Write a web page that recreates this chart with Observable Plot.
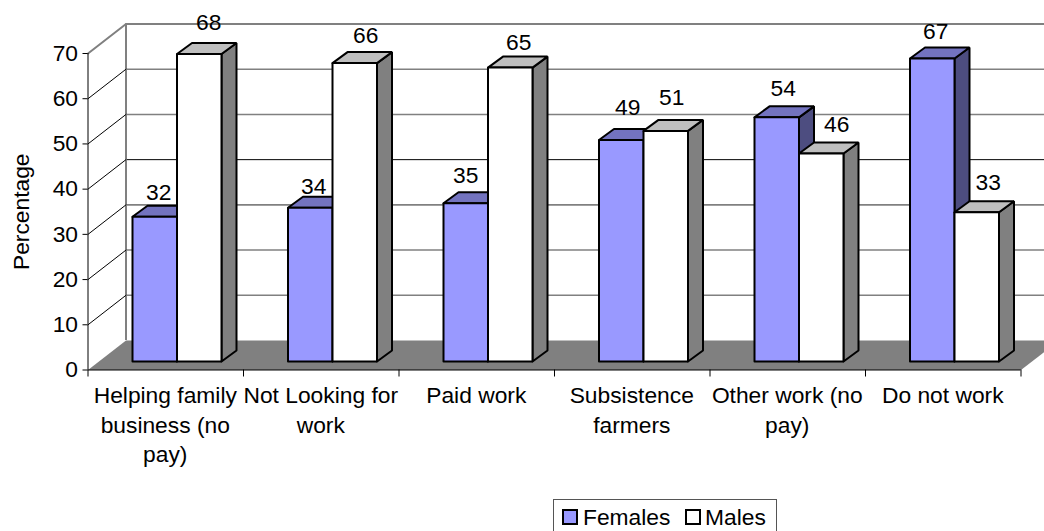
<!DOCTYPE html>
<html>
<head>
<meta charset="utf-8">
<script src="https://cdn.jsdelivr.net/npm/d3@7"></script>
<script src="https://cdn.jsdelivr.net/npm/@observablehq/plot@0.6"></script>
<style>
html,body{margin:0;padding:0;background:#fff;overflow:hidden;width:1044px;height:531px}
svg{display:block}
#legend{position:absolute;left:553px;top:499px;height:32px;width:224px;box-sizing:border-box;border:1px solid #555;border-bottom:none;
  font:22.8px "Liberation Sans",Arial,sans-serif;color:#000;white-space:nowrap;line-height:34px}
#legend i{position:absolute;top:9px;width:16px;height:16px;box-sizing:border-box;border:2px solid #000}
#legend span{position:absolute;top:0}
</style>
</head>
<body>
<div id="chart"></div>
<div id="legend">
<i style="left:8px;background:#9999ff"></i><span style="left:29px">Females</span>
<i style="left:131px;background:#fff"></i><span style="left:151px">Males</span>
</div>
<script>
const categories = ["Helping family\nbusiness (no\npay)", "Not Looking for\nwork", "Paid work", "Subsistence\nfarmers", "Other work (no\npay)", "Do not work"];
const females = [32, 34, 35, 49, 54, 67];
const males = [68, 66, 65, 51, 46, 33];
const yTicks = [0, 10, 20, 30, 40, 50, 60, 70];

const font = "Liberation Sans";
const fs = 22.8;
const pxX = 6 / 933, pxY = 70 / 316.5;          // one pixel in data units
const wallDX = 38 * pxX, wallDY = 29.5 * pxY;   // depth of the plot box
const barDX = 15 * pxX, barDY = 11 * pxY;       // depth of a bar
const base = 8.5 * pxY;                         // bars stand slightly in from the front edge
const gap = 44.5 * pxX, bw = 44.5 * pxX;

const faces = [];
function poly(id, fill, pts) { pts.concat([pts[0]]).forEach(([x, y]) => faces.push({id, fill, x, y})); }
const series = [
  {name: "f", values: females, off: 0, front: "#9999ff", top: "#7373bf", side: "#4d4d80"},
  {name: "m", values: males, off: 1, front: "#ffffff", top: "#bfbfbf", side: "#808080"}
];
categories.forEach((_, i) => {
  series.forEach(s => {
    const x0 = i + gap + s.off * bw, x1 = x0 + bw, y0 = base, y1 = base + s.values[i];
    poly(`${s.name}${i}side`, s.side, [[x1, y0], [x1 + barDX, y0 + barDY], [x1 + barDX, y1 + barDY], [x1, y1]]);
    poly(`${s.name}${i}top`, s.top, [[x0, y1], [x1, y1], [x1 + barDX, y1 + barDY], [x0 + barDX, y1 + barDY]]);
    poly(`${s.name}${i}front`, s.front, [[x0, y0], [x1, y0], [x1, y1], [x0, y1]]);
  });
});

// label placement as the source set it, in pixels from the centre above each bar
const labelNudge = [[-3.5, 3], [2, -4], [-4, 6], [3.5, 0], [-7.5, -1], [1, 2], [-1, -5], [-1.5, -6.5], [-1, -2], [8, -2], [-4, 0], [4, -3]];
const labels = [];
categories.forEach((_, i) => series.forEach((s, k) => {
  const [nx, ny] = labelNudge[i * 2 + k];
  labels.push({
    x: i + gap + s.off * bw + bw / 2 + barDX / 2 + nx * pxX,
    y: base + s.values[i] + barDY + (16 - ny) * pxY,
    t: String(s.values[i])
  });
}));

const floor = [[0, 0], [wallDX, wallDY], [6 + wallDX, wallDY], [6, 0]];

const plot = Plot.plot({
  width: 1044, height: 497,
  margin: 0,
  x: {domain: [0, 6], range: [87.5, 1020.5], axis: null},
  y: {domain: [0, 70], range: [369.5, 53], axis: null},
  color: {type: "identity"},
  style: {fontFamily: font, fontSize: fs + "px", color: "#000", background: "#fff", overflow: "hidden"},
  marks: [
    // back wall
    Plot.ruleY(yTicks.slice(1, -1).filter(v => v !== 40), {x1: wallDX, x2: 6.3, y: d => d + wallDY, stroke: "#808080", strokeWidth: 1.6}),
    Plot.ruleY([40], {x1: wallDX, x2: 6.3, y: d => d + wallDY, stroke: "#000", strokeWidth: 1}),
    Plot.ruleY([70], {x1: wallDX, x2: 6.3, y: d => d + wallDY, stroke: "#808080", strokeWidth: 2}),
    Plot.ruleX([0], {x: wallDX, y1: wallDY, y2: 70 + wallDY, stroke: "#808080", strokeWidth: 2}),
    // side wall lines
    ...yTicks.slice(1, -1).map(v => Plot.line([[0, v], [wallDX, v + wallDY]], {stroke: "#000", strokeWidth: 1})),
    Plot.line([[0, 70], [wallDX, 70 + wallDY]], {stroke: "#808080", strokeWidth: 2}),
    // floor
    Plot.line(floor.concat([floor[0]]), {fill: "#808080", stroke: "none"}),
    // bars
    Plot.line(faces, {x: "x", y: "y", z: "id", fill: "fill", stroke: "#000", strokeWidth: 2, strokeLinejoin: "miter"}),
    // axes
    Plot.ruleX([0], {y1: 0, y2: 70, stroke: "#000", strokeWidth: 1}),
    Plot.ruleY([0], {x1: 0, x2: 6, stroke: "#000", strokeWidth: 1.2}),
    Plot.ruleX(d3.range(0, 7), {y1: 0, y2: -7 * pxY, stroke: "#000"}),
    Plot.ruleY(yTicks, {x1: -5 * pxX, x2: 0, stroke: "#000", strokeWidth: 1}),
    Plot.text(yTicks, {x: -10 * pxX, y: d => d, text: d => String(d), textAnchor: "end", fontSize: fs, fill: "#000"}),
    Plot.text(categories, {x: (_, i) => i + 0.5, y: 0, text: d => d, dx: -0.5, dy: 11.5, lineHeight: 1.31, lineAnchor: "top", fontSize: fs, fill: "#000"}),
    Plot.text(labels, {x: "x", y: "y", text: "t", fontSize: fs, fill: "#000", lineAnchor: "middle"}),
    Plot.text(["Percentage"], {x: -66 * pxX, y: 35, rotate: -90, fontSize: fs, fill: "#000"})
  ]
});
document.getElementById("chart").append(plot);
</script>
</body>
</html>
